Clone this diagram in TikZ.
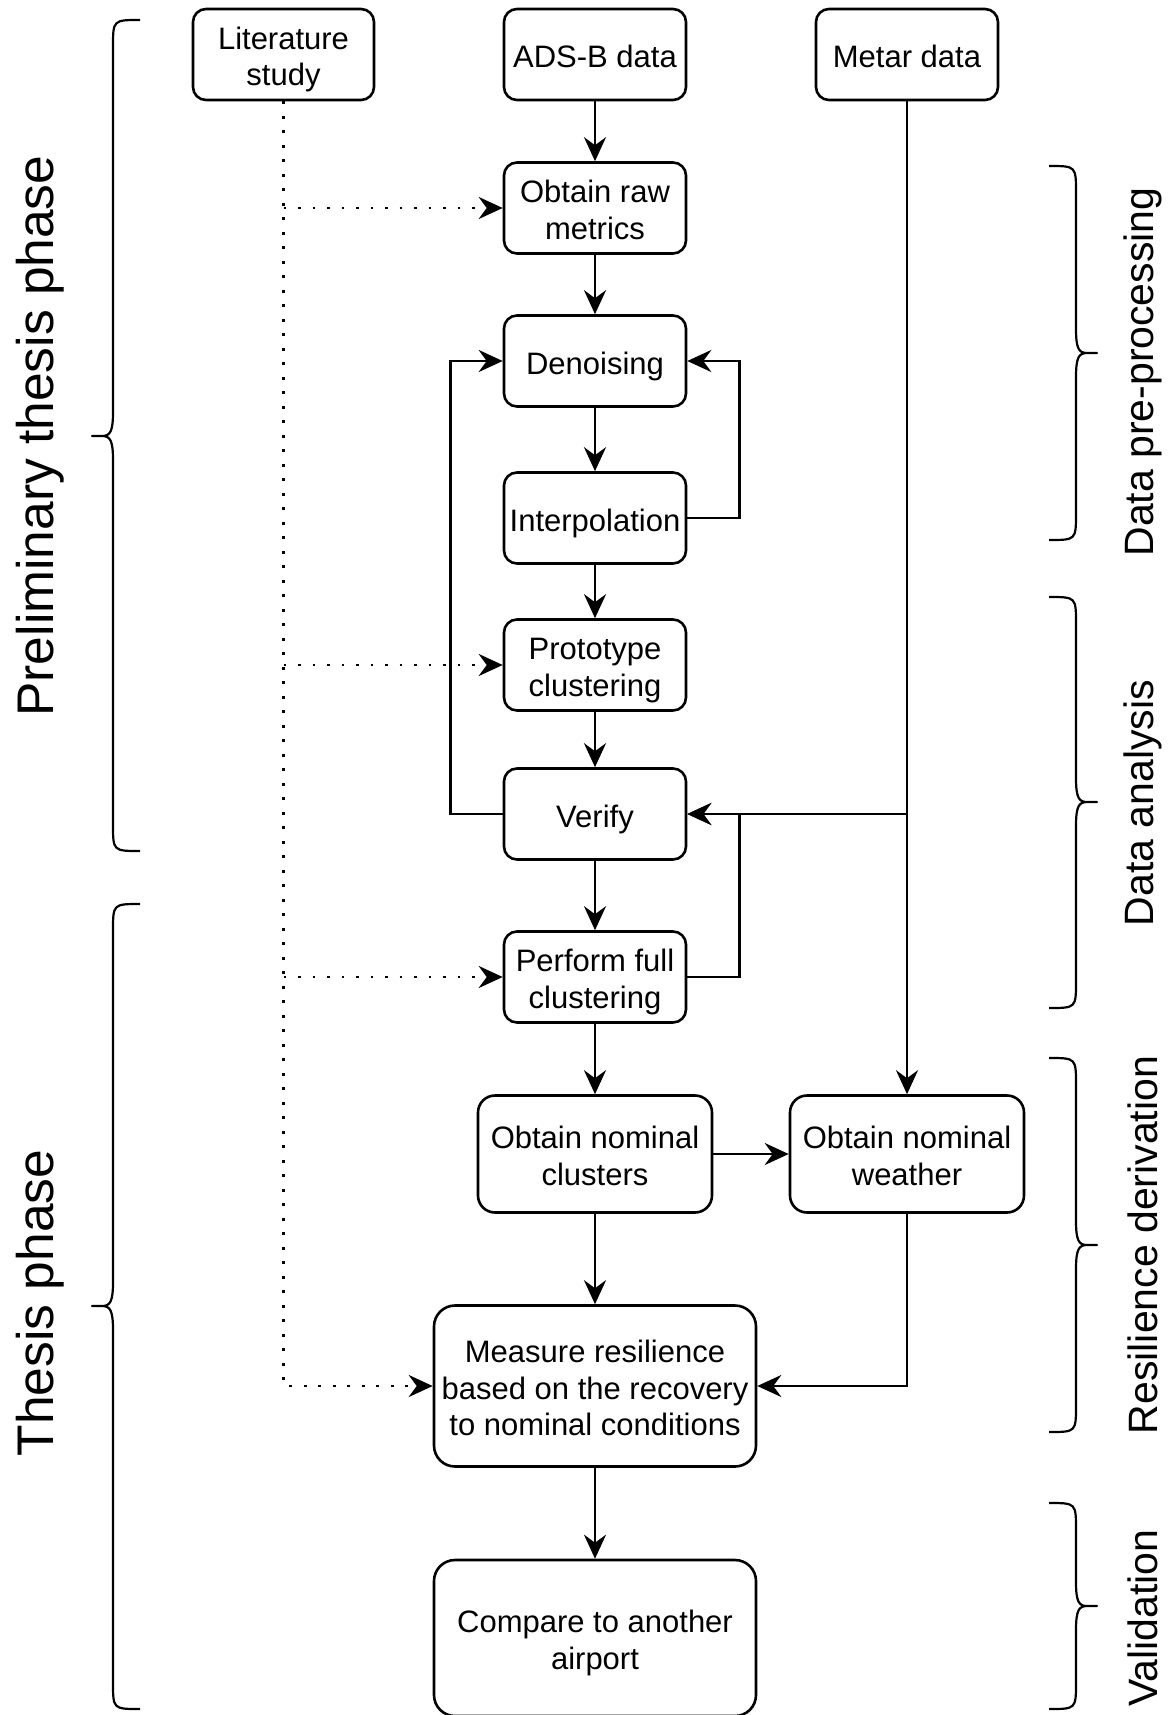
\documentclass[tikz,border=0pt]{standalone}
\usepackage{fontspec}
\setmainfont{Liberation Sans}
\usetikzlibrary{arrows.meta}

% struts: height of the first text line, depth of the last one
\newcommand\lnup{\rule{0pt}{33pt}}
\newcommand\lndn{\rule[-7pt]{0pt}{7pt}}

% curly brace opening to the right: line x, top, bottom, tip y
\newcommand\phasebraceL[4]{%
  \draw[bracestyle] (#1+27,#2) .. controls (#1,#2) .. (#1,#2+27)
    -- (#1,#4-24) .. controls (#1,#4-4) and (#1-3,#4) .. (#1-11,#4) -- (#1-21,#4)
    -- (#1-11,#4) .. controls (#1-3,#4) and (#1,#4+4) .. (#1,#4+24)
    -- (#1,#3-27) .. controls (#1,#3) .. (#1+27,#3);}
% curly brace opening to the left: line x, top, bottom, tip y
\newcommand\phasebraceR[4]{%
  \draw[bracestyle] (#1-27,#2) .. controls (#1,#2) .. (#1,#2+27)
    -- (#1,#4-24) .. controls (#1,#4-4) and (#1+3,#4) .. (#1+11,#4) -- (#1+21,#4)
    -- (#1+11,#4) .. controls (#1+3,#4) and (#1,#4+4) .. (#1,#4+24)
    -- (#1,#3-27) .. controls (#1,#3) .. (#1-27,#3);}

\begin{document}
\begin{tikzpicture}[x=1pt,y=-1pt,
  box/.style={draw, line width=2.6pt, rounded corners=13pt, align=center,
    inner sep=0pt, minimum width=182pt, minimum height=91pt,
    font=\fontsize{31}{36.5}\selectfont},
  widebox/.style={box, minimum width=234pt, minimum height=117pt, rounded corners=17pt},
  bigbox/.style={box, minimum width=322pt, minimum height=161pt, rounded corners=21pt},
  tipshape/.style={-{Stealth[length=24pt,width=22pt,inset=8pt]}},
  flow/.style={line width=2.8pt, tipshape},
  dotline/.style={line width=2.8pt, dash pattern=on 2.8pt off 11.7pt},
  dotarrow/.style={dotline, tipshape},
  bracestyle/.style={line width=2.2pt, line join=round},
  phaseL/.style={rotate=90, inner sep=0pt, font=\fontsize{51.5}{60}\selectfont},
  phaseR/.style={rotate=90, inner sep=0pt, font=\fontsize{41}{48}\selectfont}]

\useasboundingbox (0,0) rectangle (1174,1715);

% sources
\node[box, minimum width=181pt] (lit) at (283.5,54.5) {\lnup Literature\\study\lndn};
\node[box] (ads) at (595,54.5) {\lnup ADS-B data\lndn};
\node[box] (metar) at (907,54.5) {\lnup Metar data\lndn};

% processing chain
\node[box] (raw) at (595,208) {\lnup Obtain raw\\metrics\lndn};
\node[box] (den) at (595,361) {\lnup Denoising\lndn};
\node[box] (interp) at (595,518) {\lnup Interpolation\lndn};
\node[box] (proto) at (595,665) {\lnup Prototype\\clustering\lndn};
\node[box] (verify) at (595,814) {\lnup Verify\lndn};
\node[box] (full) at (595,977) {\lnup Perform full\\clustering\lndn};
\node[widebox] (ncl) at (595,1154) {\lnup Obtain nominal\\clusters\lndn};
\node[widebox] (nwx) at (907,1154) {\lnup Obtain nominal\\weather\lndn};
\node[bigbox] (meas) at (595,1386)
  {\lnup Measure resilience\\based on the recovery\\to nominal conditions\lndn};
\node[bigbox, minimum height=156pt] (comp) at (595,1638) {\lnup Compare to another\\airport\lndn};

% main flow
\draw[flow] (ads) -- (raw);
\draw[flow] (raw) -- (den);
\draw[flow] (den) -- (interp);
\draw[flow] (interp) -- (proto);
\draw[flow] (proto) -- (verify);
\draw[flow] (verify) -- (full);
\draw[flow] (full) -- (ncl);
\draw[flow] (ncl) -- (meas);
\draw[flow] (meas) -- (comp);
\draw[flow] (ncl) -- (nwx);

% feedback loops
\draw[flow] (verify.west) -- ++(-52,0) |- (den.west);
\draw[flow] (interp.east) -- ++(52,0) |- (den.east);
\draw[flow] (full.east) -- ++(52,0) |- (verify.east);

% weather data
\coordinate (mj) at (metar |- verify);
\draw[flow] (metar) -- (nwx);
\draw[flow] (mj) -- (verify.east);
\draw[flow] (nwx.south) |- (meas.east);

% literature input
\draw[dotarrow] (lit.south) |- (meas.west);
\draw[dotarrow] (lit.south |- raw.west) -- (raw.west);
\draw[dotarrow] (lit.south |- proto.west) -- (proto.west);
\draw[dotarrow] (lit.south |- full.west) -- (full.west);

% phase braces
\phasebraceL{113}{20}{851}{436}
\phasebraceL{113}{904}{1709}{1306}
\phasebraceR{1076}{166}{540}{353}
\phasebraceR{1076}{597}{1008}{802}
\phasebraceR{1076}{1058}{1432}{1245}
\phasebraceR{1076}{1503}{1709}{1606}

% phase labels
\node[phaseL] (prelim) at (40,436) {Preliminary thesis phase};
\node[phaseL] (thesis) at (40,1303) {Thesis phase};
\node[phaseR] (prep) at (1143,372) {Data pre-processing};
\node[phaseR] (anal) at (1143,803) {Data analysis};
\node[phaseR] (resil) at (1143,1245) {Resilience derivation};
\node[phaseR] (valid) at (1143,1618) {Validation};
\end{tikzpicture}
\end{document}
